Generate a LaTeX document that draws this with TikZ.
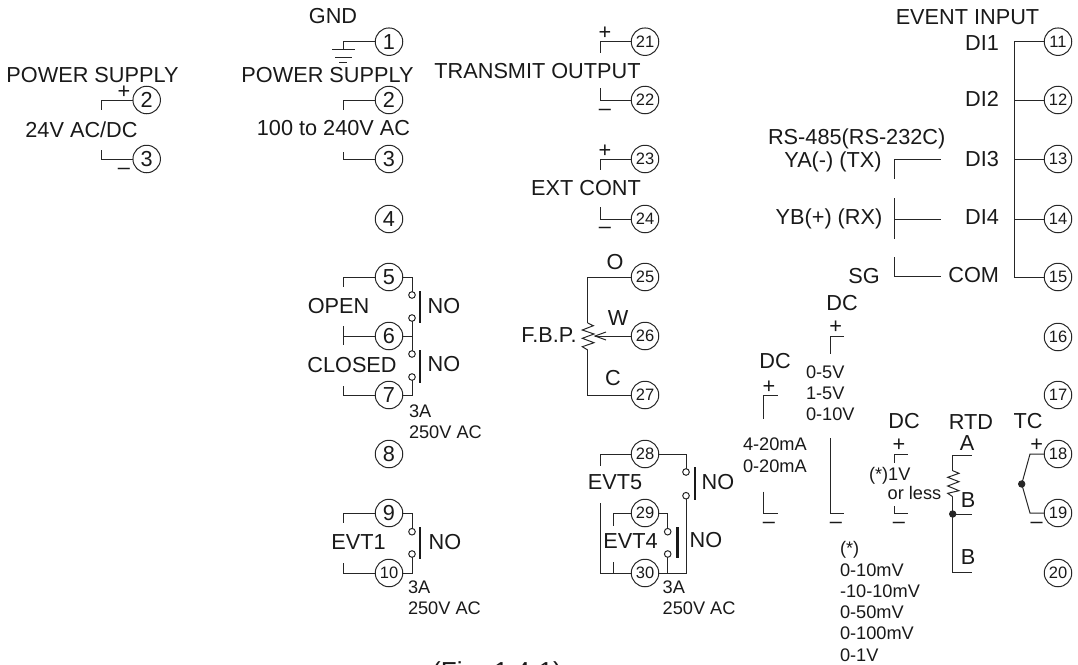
\documentclass[tikz,border=0pt]{standalone}
\usepackage{fontspec}
\setmainfont{Liberation Sans}
\begin{document}
\begin{tikzpicture}[x=1pt,y=-1pt,
  wire/.style={draw=black!85,line width=1pt},
  bar/.style={draw=black!90,line width=2pt},
  barb/.style={draw=black!90,line width=3pt},
  big/.style={inner sep=0pt,outer sep=0pt,text=black!90,font=\fontsize{21.7}{24}\selectfont,text height=15.5pt,text depth=0pt},
  small/.style={inner sep=0pt,outer sep=0pt,text=black!90,font=\fontsize{18.2}{22}\selectfont,text height=13pt,text depth=0pt},
  term/.style={circle,draw=black!85,line width=1pt,minimum size=27.5pt,inner sep=0pt,outer sep=0pt,text=black!90,font=\fontsize{21.7}{24}\selectfont},
  termb/.style={term,font=\fontsize{16.5}{18}\selectfont},
  contact/.style={circle,draw=black!85,line width=1pt,fill=white,minimum size=6.6pt,inner sep=0pt,outer sep=0pt},
  junction/.style={circle,draw=black!85,line width=.8pt,fill=black!85,minimum size=6.5pt,inner sep=0pt,outer sep=0pt},
  sign/.style={big},
  caption/.style={inner sep=0pt,outer sep=0pt,text=black!90,font=\fontsize{26}{28}\selectfont,text height=18.6pt,text depth=0pt}
]
\useasboundingbox (0,0) rectangle (1078,664);
% terminals
\node[term] (p2) at (146.7,100) {2};
\node[term] (p3) at (146.7,159) {3};
\foreach \n/\y in {1/41.7,2/100,3/159,4/219,5/277,6/336,7/395,8/454,9/513}
  \node[term] (t\n) at (389,\y) {\n};
\node[termb] (t10) at (389,573) {10};
\foreach \n/\y in {11/41.7,12/100,13/159,14/219,15/277,16/337,17/395,18/454,19/513,20/573}
  \node[termb] (t\n) at (1058,\y) {\n};
\foreach \n/\y in {21/41.7,22/100,23/159,24/219,25/277,26/336,27/395,28/454,29/513,30/573}
  \node[termb] (t\n) at (645,\y) {\n};
% left power supply
\coordinate (p2e) at (101,110); \coordinate (p3e) at (101,149.5);
\draw[wire] (p2.west) -| (p2e);
\draw[wire] (p3.west) -| (p3e);
\node[big] (lps1) at (92.5,75) {POWER SUPPLY};
\node[big] (l24) at (81.5,130) {24V AC/DC};
\node[sign] (pl1) at (124,90.7) {+};
\node[sign] (mi1) at (124,167) {–};
% ground
\coordinate (g0) at (343,50);
\coordinate (g1a) at (332,49); \coordinate (g1b) at (355,49);
\coordinate (g2a) at (335,57); \coordinate (g2b) at (352,57);
\coordinate (g3a) at (339,62.5); \coordinate (g3b) at (347,62.5);
\draw[wire] (t1.west) -| (g0);
\draw[wire] (g1a) -- (g1b);
\draw[wire] (g2a) -- (g2b);
\draw[wire] (g3a) -- (g3b);
\node[big] (lgnd) at (333,15.7) {GND};
% main power supply
\coordinate (t2e) at (343,110); \coordinate (t3e) at (343,152);
\draw[wire] (t2.west) -| (t2e);
\draw[wire] (t3.west) -| (t3e);
\node[big] (lps2) at (327.5,75) {POWER SUPPLY};
\node[big] (l100) at (333.5,128) {100 to 240V AC};
% alarm 5-6-7
\coordinate (t5e) at (343,287); \coordinate (t6a) at (343,326); \coordinate (t6b) at (343,345);
\coordinate (t7e) at (343,386);
\draw[wire] (t5.west) -| (t5e);
\draw[wire] (t6.west) -- (343,336);
\draw[wire] (t6a) -- (t6b);
\draw[wire] (t7.west) -| (t7e);
\node[contact] (c5a) at (412,295) {};
\node[contact] (c5b) at (412,318) {};
\node[contact] (c7a) at (412,354) {};
\node[contact] (c7b) at (412,377) {};
\draw[wire] (t5.east) -| (c5a.north);
\draw[wire] (c5b.south) -- (c7a.north);
\draw[wire] (t6.east) -- (412,336);
\draw[wire] (c7b.south) |- (t7.east);
\coordinate (b1a) at (420,291); \coordinate (b1b) at (420,322.7);
\coordinate (b2a) at (420,350); \coordinate (b2b) at (420,382.7);
\draw[bar] (b1a) -- (b1b);
\draw[bar] (b2a) -- (b2b);
\node[big] (lno1) at (444,305.7) {NO};
\node[big] (lno2) at (444,364) {NO};
\node[big] (lopen) at (338.5,306) {OPEN};
\node[big] (lclosed) at (352,365) {CLOSED};
\node[small,anchor=west] (l3a1) at (409,410.7) {3A};
\node[small,anchor=west] (l250a) at (409,431.7) {250V AC};
% EVT1
\coordinate (t9e) at (343,523); \coordinate (t10e) at (343,563);
\draw[wire] (t9.west) -| (t9e);
\draw[wire] (t10.west) -| (t10e);
\node[contact] (c9a) at (412,531.7) {};
\node[contact] (c9b) at (412,554) {};
\draw[wire] (t9.east) -| (c9a.north);
\draw[wire] (c9b.south) |- (t10.east);
\coordinate (b3a) at (420,527); \coordinate (b3b) at (420,559);
\draw[bar] (b3a) -- (b3b);
\node[big] (lno3) at (445,541.7) {NO};
\node[big] (levt1) at (358.5,541.7) {EVT1};
\node[small,anchor=west] (l3a2) at (408,586.7) {3A};
\node[small,anchor=west] (l250b) at (408,608) {250V AC};
% transmit output
\coordinate (t21e) at (600,53); \coordinate (t22e) at (600,88);
\coordinate (t23e) at (600,170); \coordinate (t24e) at (600,207);
\draw[wire] (t21.west) -| (t21e);
\draw[wire] (t22.west) -| (t22e);
\draw[wire] (t23.west) -| (t23e);
\draw[wire] (t24.west) -| (t24e);
\node[sign] (pl21) at (605,31.7) {+};
\node[sign] (mi22) at (605,108) {–};
\node[sign] (pl23) at (605,150) {+};
\node[sign] (mi24) at (605,225.7) {–};
\node[big] (ltr) at (537.5,70.7) {TRANSMIT OUTPUT};
\node[big] (lext) at (586,187.7) {EXT CONT};
% F.B.P.
\coordinate (r1) at (587.7,323);
\coordinate (r2) at (587.7,350);
\coordinate (ra) at (595,336);
\draw[wire] (t25.west) -| (r1);
\draw[wire] (r1) -- (593.3,325.7) -- (582.3,330) -- (594,334) -- (582.3,338.3) -- (594,342.7) -- (582.3,346.7) -- (r2);
\draw[wire] (r2) |- (t27.west);
\draw[wire] (t26.west) -- (ra);
\draw[wire] (606,332) -- (ra) -- (606,340);
\node[big] (lo) at (615,262) {O};
\node[big] (lw) at (618,318) {W};
\node[big] (lc) at (613,378) {C};
\node[big] (lfbp) at (549,335) {F.B.P.};
% EVT5, EVT4
\coordinate (t28e) at (600,465.7); \coordinate (t30e) at (600,503);
\coordinate (t29e) at (613,525.7); \coordinate (t30f) at (613,561.7);
\draw[wire] (t28.west) -| (t28e);
\draw[wire] (t30.west) -| (t30e);
\draw[wire] (t29.west) -| (t29e);
\draw[wire] (613,573) -- (t30f);
\node[contact] (c28a) at (686,472) {};
\node[contact] (c28b) at (686,495.7) {};
\node[contact] (c29a) at (667.7,531.7) {};
\node[contact] (c29b) at (667.7,554) {};
\draw[wire] (t28.east) -| (c28a.north);
\draw[wire] (c28b.south) |- (t30.east);
\draw[wire] (t29.east) -| (c29a.north);
\draw[wire] (c29b.south) -- (667.7,573);
\coordinate (b4a) at (695,467); \coordinate (b4b) at (695,500);
\coordinate (b5a) at (677,527); \coordinate (b5b) at (677,558);
\draw[bar] (b4a) -- (b4b);
\draw[barb] (b5a) -- (b5b);
\node[big] (lno4) at (718,482) {NO};
\node[big] (lno5) at (706,540) {NO};
\node[big] (levt5) at (615,482) {EVT5};
\node[big] (levt4) at (630.5,540.7) {EVT4};
\node[small,anchor=west] (l3a3) at (662.7,586.7) {3A};
\node[small,anchor=west] (l250c) at (662.7,608) {250V AC};
% event inputs
\coordinate (ev1) at (1014,41.7); \coordinate (ev5) at (1014,277);
\draw[wire] (t11.west) -- (ev1) -- (ev5) -- (t15.west);
\coordinate (ev2) at (1014,100); \coordinate (ev3) at (1014,159); \coordinate (ev4) at (1014,219);
\draw[wire] (t12.west) -- (ev2);
\draw[wire] (t13.west) -- (ev3);
\draw[wire] (t14.west) -- (ev4);
\node[big] (levi) at (967.5,16.7) {EVENT INPUT};
\node[big,anchor=east] (ld1) at (999,42.7) {DI1};
\node[big,anchor=east] (ld2) at (999,99) {DI2};
\node[big,anchor=east] (ld3) at (999,159) {DI3};
\node[big,anchor=east] (ld4) at (999,217) {DI4};
\node[big,anchor=east] (lcom) at (999,275) {COM};
% RS-485
\coordinate (ya1) at (940.6,159.5); \coordinate (ya2) at (894.6,179);
\coordinate (yb1) at (894.6,198); \coordinate (yb2) at (894.6,238.7); \coordinate (yb3) at (940.6,219);
\coordinate (sg1) at (894.6,257); \coordinate (sg2) at (940.6,276.7);
\draw[wire] (ya1) -| (ya2);
\draw[wire] (yb1) -- (yb2);
\draw[wire] (894.6,219) -- (yb3);
\draw[wire] (sg1) |- (sg2);
\node[big] (lrs) at (856.7,136.7) {RS-485(RS-232C)};
\node[big] (lya) at (833,160) {YA(-) (TX)};
\node[big] (lyb) at (829,216.7) {YB(+) (RX)};
\node[big] (lsg) at (864,275.7) {SG};
% DC 0-5V
\coordinate (v1) at (844,336); \coordinate (v2) at (830,354);
\coordinate (v3) at (830,438); \coordinate (v4) at (844,513);
\draw[wire] (v1) -| (v2);
\draw[wire] (v3) |- (v4);
\node[big] (ldc1) at (842,303) {DC};
\node[sign] (pl31) at (835.7,326) {+};
\node[sign] (mi31) at (836,521) {–};
\node[small,anchor=west] (lv1) at (806,371.7) {0-5V};
\node[small,anchor=west] (lv2) at (806,392.7) {1-5V};
\node[small,anchor=west] (lv3) at (806,414) {0-10V};
% DC mA
\coordinate (a1) at (777.7,395); \coordinate (a2) at (763,419);
\coordinate (a3) at (763,491.7); \coordinate (a4) at (777.7,513);
\draw[wire] (a1) -| (a2);
\draw[wire] (a3) |- (a4);
\node[big] (ldc2) at (775,360.7) {DC};
\node[sign] (pl32) at (769,386) {+};
\node[sign] (mi32) at (769,521) {–};
\node[small,anchor=west] (lma1) at (743,444) {4-20mA};
\node[small,anchor=west] (lma2) at (743,466) {0-20mA};
% DC 1V
\coordinate (m1) at (907.7,454.7); \coordinate (m2) at (894,463);
\coordinate (m3) at (894,506); \coordinate (m4) at (907.7,513);
\draw[wire] (m1) -| (m2);
\draw[wire] (m3) |- (m4);
\node[big] (ldc3) at (904,420.7) {DC};
\node[sign] (pl33) at (899,444) {+};
\node[sign] (mi33) at (899,521) {–};
\node[small,anchor=west] (lm1) at (869,474) {(*)1V};
\node[small,anchor=west] (lm2) at (887.7,493) {or less};
\node[small,anchor=west] (ls0) at (840,548) {(*)};
\node[small,anchor=west] (ls1) at (840,570) {0-10mV};
\node[small,anchor=west] (ls2) at (840,590.7) {-10-10mV};
\node[small,anchor=west] (ls3) at (840,611.7) {0-50mV};
\node[small,anchor=west] (ls4) at (840,633) {0-100mV};
\node[small,anchor=west] (ls5) at (840,655) {0-1V};
% RTD
\coordinate (rt1) at (971.7,455); \coordinate (rt2) at (952.7,470.7);
\coordinate (rt3) at (952.7,496.7); \coordinate (rt4) at (971.7,514);
\coordinate (rt5) at (971.7,572.7);
\node[junction] (jb) at (952.7,514) {};
\draw[wire] (rt1) -| (rt2);
\draw[wire] (rt2) -- (959,473.3) -- (947.7,477.3) -- (959,481.7) -- (947.7,486) -- (959,490.7) -- (947.7,493.3) -- (rt3);
\draw[wire] (rt3) -- (jb.center);
\draw[wire] (jb.center) -- (rt4);
\draw[wire] (jb.center) |- (rt5);
\node[big] (lrtd) at (971,421.7) {RTD};
\node[big] (lA) at (967,443) {A};
\node[big] (lB1) at (968,500) {B};
\node[big] (lB2) at (968,557) {B};
% TC
\node[junction] (jt) at (1021.7,484) {};
\draw[wire] (t18.west) -- (1030,454) -- (jt.center);
\draw[wire] (t19.west) -- (1030,513) -- (jt.center);
\node[big] (ltc) at (1028,420.7) {TC};
\node[sign] (pl18) at (1036.7,444) {+};
\node[sign] (mi19) at (1036.7,521) {–};
% caption
\node[caption] (lcap) at (497,671) {(Fig. 1.4-1)};
\end{tikzpicture}
\end{document}
